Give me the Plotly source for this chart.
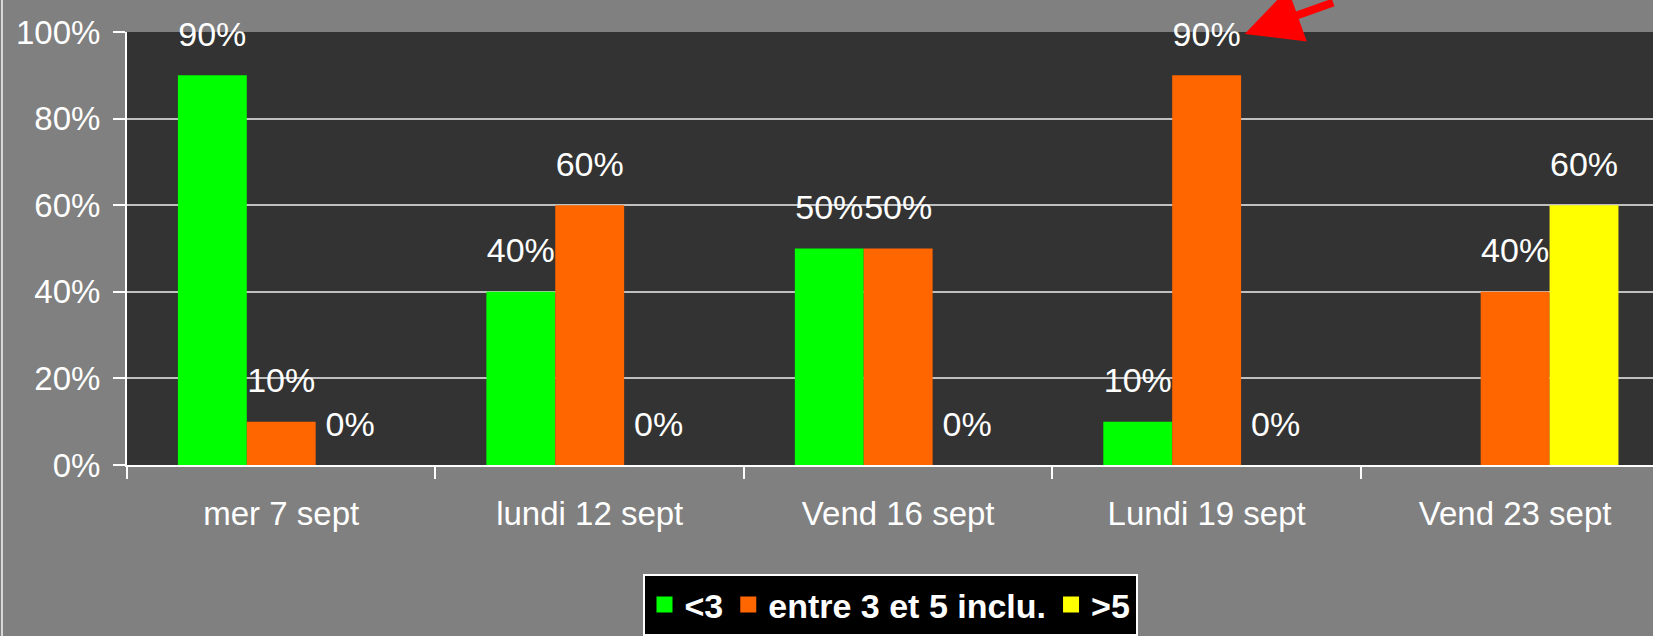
import plotly.graph_objects as go

categories = ["mer 7 sept", "lundi 12 sept", "Vend 16 sept", "Lundi 19 sept", "Vend 23 sept"]
series_names = ["<3", "entre 3 et 5 inclu.", ">5"]
vals_lt3 = [90, 40, 50, 10, None]
vals_3to5 = [10, 60, 50, 90, 40]
vals_gt5 = [0, 0, 0, 0, 60]
y_ticks = [0, 20, 40, 60, 80, 100]
y_ticklabels = ["0%", "20%", "40%", "60%", "80%", "100%"]

colors = ["#00ff00", "#ff6600", "#ffff00"]
series = [vals_lt3, vals_3to5, vals_gt5]
FONT = "Liberation Sans, Arial, sans-serif"

fig = go.Figure()
for i, (name, vals, col) in enumerate(zip(series_names, series, colors)):
    fig.add_trace(go.Bar(
        x=categories, y=vals, name=name, marker=dict(color=col, line=dict(width=0)),
        offsetgroup=str(i), showlegend=False,
    ))
for i, (name, vals) in enumerate(zip(series_names, series)):
    fig.add_trace(go.Scatter(
        x=categories, y=vals, mode="markers+text",
        text=[f"{v}%" if v is not None else "" for v in vals],
        textposition="top center",
        textfont=dict(color="white", size=34, family=FONT),
        marker=dict(size=32, color="rgba(0,0,0,0)"),
        offsetgroup=str(i), showlegend=False, cliponaxis=False, hoverinfo="skip",
    ))
# legend entries
for name, col in zip(series_names, colors):
    fig.add_trace(go.Scatter(
        x=[None], y=[None], mode="markers", name=name, xaxis="x2",
        marker=dict(symbol="square", size=16, color=col, line=dict(width=0)),
    ))

fig.update_layout(
    width=1653, height=636,
    margin=dict(l=127, r=0, t=32, b=170),
    paper_bgcolor="#808080", plot_bgcolor="#333333",
    barmode="group", bargap=0.33, bargroupgap=0,
    scattermode="group", scattergap=0.33,
    font=dict(family=FONT, color="white", size=33),
    xaxis=dict(
        type="category", categoryorder="array", categoryarray=categories,
        range=[-0.5, 4.447], showgrid=False, showline=True, linecolor="white", linewidth=2,
        ticks="outside", tickson="boundaries", ticklen=12, tickwidth=2, tickcolor="white",
        tickfont=dict(size=33, color="white", family=FONT), zeroline=False,
        ticklabelstandoff=18,
    ),
    xaxis2=dict(overlaying="x", visible=False, range=[0, 1]),
    yaxis=dict(
        range=[0, 100], tickvals=y_ticks, ticktext=y_ticklabels,
        showgrid=True, gridcolor="#c0c0c0", gridwidth=2,
        showline=True, linecolor="white", linewidth=2, zeroline=False,
        ticks="outside", ticklen=12, tickwidth=2, tickcolor="white",
        tickfont=dict(size=33, color="white", family=FONT), ticklabelstandoff=6,
    ),
    legend=dict(
        orientation="h", x=0.5, xanchor="center", y=-0.252, yanchor="top",
        bgcolor="black", bordercolor="white", borderwidth=2,
        font=dict(size=34, color="white", family=FONT, weight="bold"),
        itemsizing="trace", tracegroupgap=0, itemwidth=30,
    ),
)

# thin light border at the left edge of the picture
fig.add_shape(
    type="line", xref="paper", yref="paper", xsizemode="pixel", xanchor=0,
    x0=-125, x1=-125, y0=-0.5, y1=1.2, line=dict(color="#d8d8d8", width=2), layer="above",
)

fig.add_annotation(
    x=3, y=100, xref="x", yref="y", xshift=38, yshift=-2,
    text="", showarrow=True, arrowhead=2, arrowsize=1.4, arrowwidth=8,
    arrowcolor="#ff0000", ax=90, ay=-62,
)

fig.write_html(
    "out.html",
    config={"displayModeBar": False},
    post_script="document.body.style.margin='0';document.body.style.overflow='hidden';",
)
